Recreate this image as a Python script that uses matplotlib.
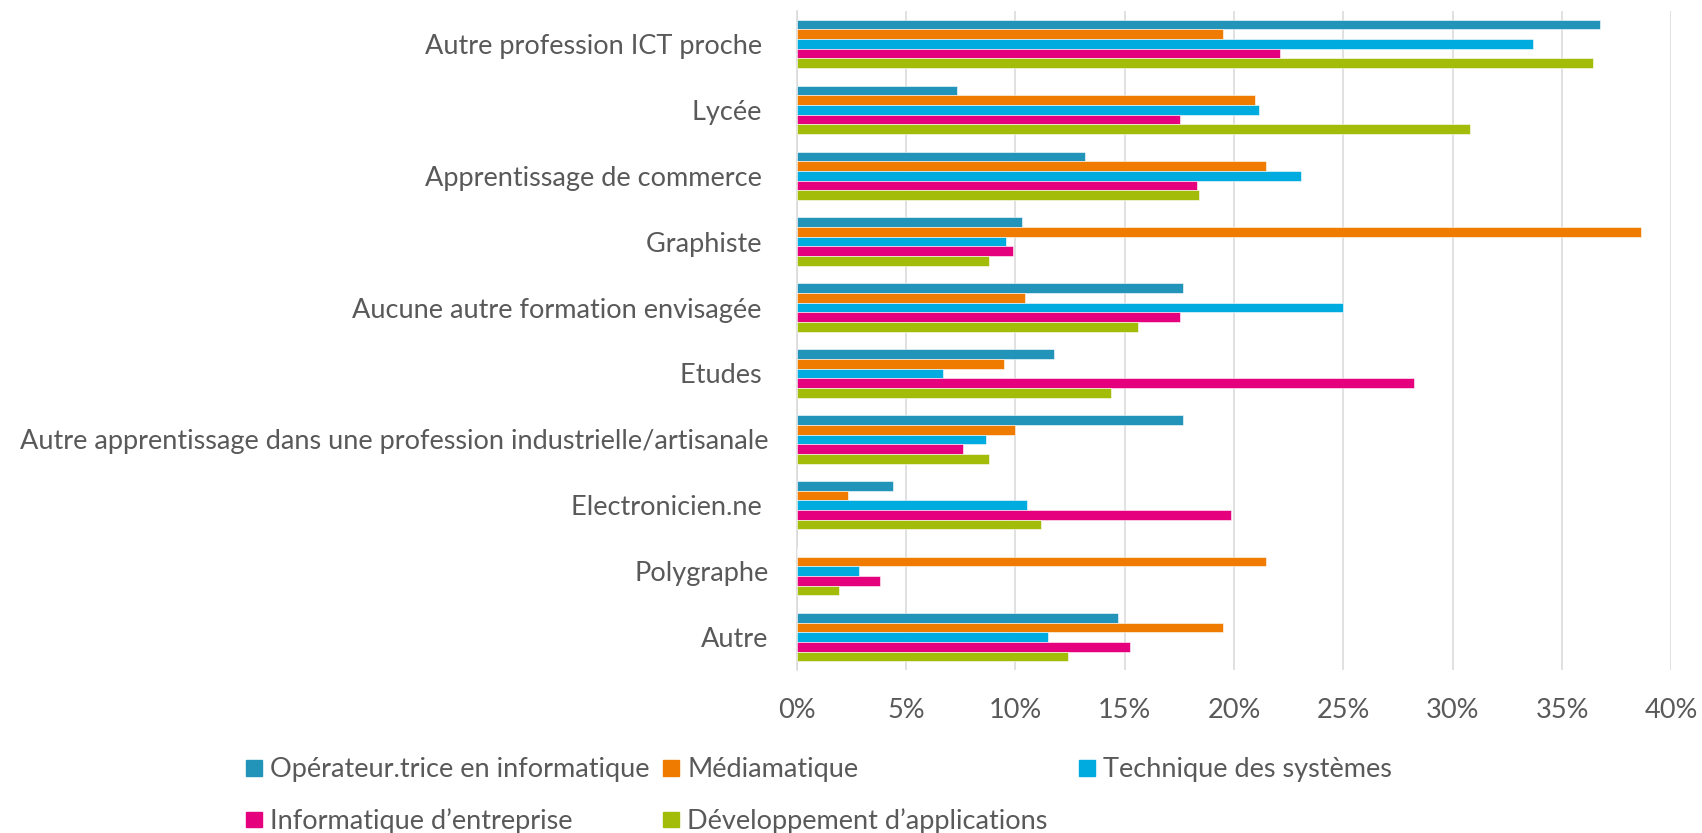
import matplotlib
matplotlib.use("Agg")
import matplotlib.pyplot as plt
from matplotlib.patches import Rectangle
import numpy as np

plt.rcParams['font.family'] = ['Lato', 'DejaVu Sans']

categories = [
    "Autre profession ICT proche ",
    "Lycée ",
    "Apprentissage de commerce ",
    "Graphiste ",
    "Aucune autre formation envisagée ",
    "Etudes ",
    "Autre apprentissage dans une profession industrielle/artisanale",
    "Electronicien.ne ",
    "Polygraphe",
    "Autre",
]

series_names = [
    "Opérateur.trice en informatique",
    "Médiamatique",
    "Technique des systèmes",
    "Informatique d’entreprise",
    "Développement d’applications",
]

operateur     = [36.75, 7.35, 13.2, 10.3, 17.65, 11.75, 17.65, 4.4, 0.0, 14.7]
mediamatique  = [19.5, 20.95, 21.45, 38.6, 10.45, 9.5, 10.0, 2.35, 21.45, 19.5]
technique     = [33.65, 21.15, 23.05, 9.6, 25.0, 6.7, 8.65, 10.55, 2.85, 11.5]
informatique  = [22.1, 17.55, 18.3, 9.9, 17.55, 28.25, 7.6, 19.85, 3.8, 15.25]
developpement = [36.4, 30.8, 18.4, 8.8, 15.6, 14.4, 8.8, 11.2, 1.95, 12.4]

series_values = [operateur, mediamatique, technique, informatique, developpement]
colors = ["#2394B9", "#EF7B00", "#00ABE0", "#E5007D", "#A3BC0A"]

x_ticks = [0, 5, 10, 15, 20, 25, 30, 35, 40]
x_tick_labels = ["0%", "5%", "10%", "15%", "20%", "25%", "30%", "35%", "40%"]

W, H = 1702, 833
fig = plt.figure(figsize=(W / 100, H / 100), dpi=100)
ax = fig.add_axes([796.5 / W, 1 - 670 / H, (1671.4 - 796.5) / W, (670 - 11) / H])

text_color = "#595959"
fs = 19.5
n = len(series_values)
group = 0.7333
h = group / n
y = np.arange(len(categories))
for j, (vals, col) in enumerate(zip(series_values, colors)):
    ax.barh(y + (j - (n - 1) / 2) * h, vals, height=h, color=col,
            edgecolor="white", linewidth=0.4, zorder=3)

ax.set_ylim(len(categories) - 0.5, -0.5)
ax.set_xlim(0, 40)
ax.set_xticks(x_ticks)
ax.set_xticklabels(x_tick_labels)
ax.set_yticks(y)
ax.set_yticklabels(categories)
ax.tick_params(axis='both', length=0, labelsize=fs, labelcolor=text_color)
ax.tick_params(axis='x', pad=20)
ax.tick_params(axis='y', pad=20)
ax.grid(axis='x', color="#D9D9D9", linewidth=1.1, zorder=0)
ax.set_axisbelow(True)
for s in ["top", "right", "bottom"]:
    ax.spines[s].set_visible(False)
ax.spines["left"].set_color("#D9D9D9")
ax.spines["left"].set_linewidth(1.1)

# legend (manual layout, Excel style)
leg_pos = [(246, 768), (663, 768), (1079, 768), (246, 819.5), (663, 819.5)]
sq = 15.7
for (px, py), name, col in zip(leg_pos, series_names, colors):
    fig.patches.append(Rectangle((px / W, 1 - (py + sq / 2) / H), sq / W, sq / H,
                                 transform=fig.transFigure, color=col))
    fig.text((px + 24) / W, 1 - (py + 9.0) / H, name, fontsize=fs,
             color=text_color, va='baseline', ha='left')

fig.savefig("out.png", dpi=100)
